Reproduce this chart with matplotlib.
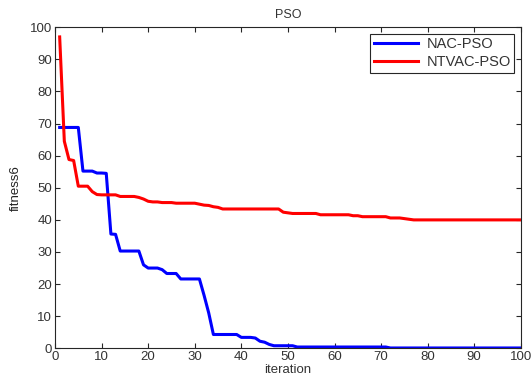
import numpy as np
import matplotlib
matplotlib.use('Agg')
import matplotlib.pyplot as plt

plt.rcParams['font.family'] = ['Liberation Sans', 'DejaVu Sans']

iteration = np.arange(1, 101)

nac_pso = ([68.8] * 5 + [55.2, 55.2, 55.2, 54.6, 54.6, 54.5, 35.6, 35.5]
           + [30.3] * 5 + [26.0, 25.0, 25.0, 25.0, 24.5, 23.3, 23.3, 23.3]
           + [21.6] * 5 + [16.5, 11.0] + [4.3] * 6 + [3.4, 3.4, 3.4, 3.2, 2.2, 1.9, 1.2]
           + [0.8] * 5 + [0.4] * 20 + [0.1] * 29)

ntvac_pso = ([97.0, 64.5, 58.8, 58.5, 50.5, 50.5, 50.5, 48.8, 47.9] + [47.8] * 4
             + [47.3] * 4 + [47.0, 46.5, 45.8, 45.6, 45.6] + [45.4] * 3 + [45.2] * 5
             + [44.9, 44.6, 44.5, 44.1, 43.9] + [43.4] * 13 + [42.4, 42.2] + [42.0] * 6
             + [41.6] * 7 + [41.3] * 2 + [41.0] * 6 + [40.6] * 3 + [40.4, 40.2]
             + [40.0] * 24)

txt = '#333333'

fig = plt.figure(figsize=(5.32, 3.79), dpi=100)
ax = fig.add_axes([0.1034, 0.081, 0.8756, 0.847])
ax.plot(iteration, nac_pso, color='#0000ff', lw=2.2, label='NAC-PSO')
ax.plot(iteration, ntvac_pso, color='#ff0000', lw=2.2, label='NTVAC-PSO')

ax.set_xlim(0, 100)
ax.set_ylim(0, 100)
ax.set_xticks(np.arange(0, 101, 10))
ax.set_yticks(np.arange(0, 101, 10))
ax.tick_params(direction='in', top=True, right=True, labelsize=9.5, length=3.5, pad=2,
               colors='#262626', labelcolor=txt)
for s in ax.spines.values():
    s.set_color('#262626')
ax.set_title('PSO', fontsize=9, pad=7, color=txt)
ax.set_xlabel('iteration', fontsize=9.5, labelpad=1, color=txt)
ax.set_ylabel('fitness6', fontsize=9.5, labelpad=6, color='#222222')

leg = ax.legend(loc='upper right', fontsize=10.5, fancybox=False, framealpha=1,
                edgecolor='#262626', borderaxespad=0.45, handlelength=3.0, borderpad=0.25,
                labelspacing=0.25, handletextpad=0.6)
leg.get_frame().set_linewidth(0.8)
for t in leg.get_texts():
    t.set_color(txt)

fig.savefig('out.png', dpi=100)
